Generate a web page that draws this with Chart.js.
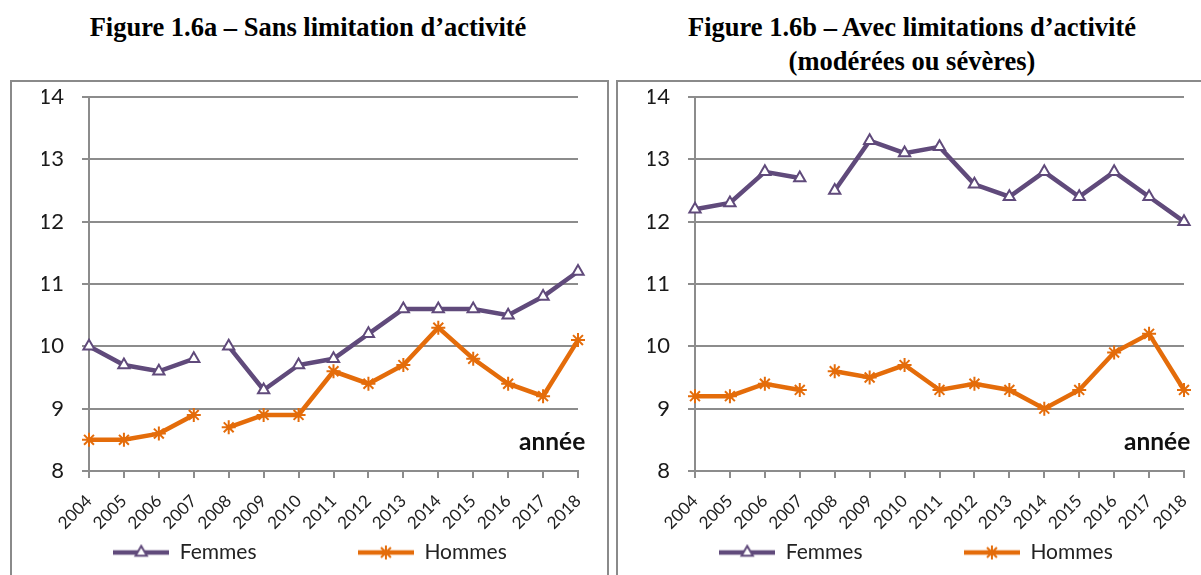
<!DOCTYPE html>
<html lang="fr">
<head>
<meta charset="UTF-8">
<title>Figures 1.6a et 1.6b</title>
<script src="https://cdn.jsdelivr.net/npm/chart.js"></script>
<style>
    body {
        margin: 0;
        width: 1201px;
        height: 575px;
        overflow: hidden;
        background: #fff;
        position: relative;
        font-family: Lato, sans-serif;
    }
    .titre {
        position: absolute;
        top: 10px;
        font-family: "Liberation Serif", serif;
        font-weight: bold;
        font-size: 26.5px;
        line-height: 34px;
        text-align: center;
        color: #000;
    }
    .cadre {
        position: absolute;
        top: 80px;
        height: 520px;
        border: 2px solid #8a8a8a;
    }
    .cadre canvas {
        position: absolute;
        left: 0;
        top: 0;
    }
    .annee {
        position: absolute;
        top: 344px;
        font-weight: bold;
        font-size: 24.5px;
        line-height: 1.2;
        color: #111;
    }
</style>
</head>
<body>
    <div class="titre" style="left:0; width:616px;">Figure 1.6a – Sans limitation d’activité</div>
    <div class="titre" style="left:612px; width:600px;">Figure 1.6b – Avec limitations d’activité<br>(modérées ou sévères)</div>

    <div class="cadre" style="left:10px; width:595px;">
        <canvas id="chartA" width="595" height="493"></canvas>
        <span class="annee" style="left:507px;">année</span>
    </div>
    <div class="cadre" style="left:616px; width:600px;">
        <canvas id="chartB" width="595" height="493"></canvas>
        <span class="annee" style="left:506px;">année</span>
    </div>

<script>
    // Données
    const annees = ['2004', '2005', '2006', '2007', '2008', '2009', '2010', '2011',
                    '2012', '2013', '2014', '2015', '2016', '2017', '2018'];

    // Figure 1.6a - sans limitation
    const femmesSans = [10.0, 9.7, 9.6, 9.8, 10.0, 9.3, 9.7, 9.8, 10.2, 10.6, 10.6, 10.6, 10.5, 10.8, 11.2];
    const hommesSans = [8.5, 8.5, 8.6, 8.9, 8.7, 8.9, 8.9, 9.6, 9.4, 9.7, 10.3, 9.8, 9.4, 9.2, 10.1];

    // Figure 1.6b - avec limitations
    const femmesAvec = [12.2, 12.3, 12.8, 12.7, 12.5, 13.3, 13.1, 13.2, 12.6, 12.4, 12.8, 12.4, 12.8, 12.4, 12.0];
    const hommesAvec = [9.2, 9.2, 9.4, 9.3, 9.6, 9.5, 9.7, 9.3, 9.4, 9.3, 9.0, 9.3, 9.9, 10.2, 9.3];

    // rupture de série entre 2007 et 2008
    const indexRupture = 3;

    const violet = '#604a7b';
    const orange = '#e46c0a';
    const gris = '#8c8c8c';

    // petite image ligne + marqueur pour la légende
    function imageLegende(couleur, style, rayon) {
        const c = document.createElement('canvas');
        c.width = 56;
        c.height = 18;
        const g = c.getContext('2d');
        g.strokeStyle = couleur;
        g.lineWidth = 4.5;
        g.beginPath();
        g.moveTo(0, 9);
        g.lineTo(56, 9);
        g.stroke();
        g.fillStyle = '#fff';
        g.lineWidth = 2;
        Chart.helpers.drawPoint(g, { pointStyle: style, radius: rayon, borderWidth: 2, rotation: 0 }, 28, 9);
        return c;
    }

    function serie(label, data, couleur, style, rayon) {
        return {
            label: label,
            data: data,
            borderColor: couleur,
            borderWidth: 4.5,
            pointStyle: style,
            pointRadius: rayon,
            pointBorderWidth: 2,
            pointBackgroundColor: '#fff',
            pointBorderColor: couleur,
            tension: 0,
            segment: {
                borderColor: ctx => ctx.p0DataIndex === indexRupture ? 'rgba(0,0,0,0)' : undefined
            }
        };
    }

    function creerGraphique(id, femmes, hommes) {
        const imgF = imageLegende(violet, 'triangle', 6.5);
        const imgH = imageLegende(orange, 'star', 7);
        return new Chart(document.getElementById(id), {
            type: 'line',
            data: {
                labels: annees,
                datasets: [
                    serie('Femmes', femmes, violet, 'triangle', 6.5),
                    serie('Hommes', hommes, orange, 'star', 7)
                ]
            },
            options: {
                responsive: false,
                animation: false,
                layout: { padding: { left: 30, right: 29, top: 0, bottom: 2 } },
                plugins: {
                    tooltip: { enabled: false },
                    legend: {
                        position: 'bottom',
                        labels: {
                            usePointStyle: true,
                            pointStyleWidth: 56,
                            padding: 10,
                            color: '#222',
                            font: { family: 'Lato', size: 21 },
                            generateLabels: chart => [
                                { text: 'Femmes' + '\u00a0'.repeat(17), pointStyle: imgF, fontColor: '#222', datasetIndex: 0, lineWidth: 0 },
                                { text: 'Hommes', pointStyle: imgH, fontColor: '#222', datasetIndex: 1, lineWidth: 0 }
                            ]
                        }
                    }
                },
                scales: {
                    x: {
                        offset: false,
                        afterFit: s => { s.height = 61; },
                        grid: {
                            drawOnChartArea: false,
                            drawTicks: true,
                            tickLength: 7,
                            color: gris,
                            lineWidth: 2
                        },
                        border: { display: true, color: gris, width: 2 },
                        ticks: {
                            minRotation: 45,
                            maxRotation: 45,
                            autoSkip: false,
                            padding: 13,
                            color: '#222',
                            font: { family: 'Lato', size: 17 }
                        }
                    },
                    y: {
                        min: 8,
                        max: 14,
                        afterFit: s => {
                            s.width = 47;
                            s.paddingTop = 15;
                            s.paddingBottom = 0;
                        },
                        grid: {
                            color: gris,
                            lineWidth: 2,
                            tickLength: 7
                        },
                        border: { display: true, color: gris, width: 2 },
                        ticks: {
                            stepSize: 1,
                            padding: 18,
                            color: '#1a1a1a',
                            font: { family: 'Lato', size: 22 }
                        }
                    }
                }
            }
        });
    }

    creerGraphique('chartA', femmesSans, hommesSans);
    creerGraphique('chartB', femmesAvec, hommesAvec);
</script>
</body>
</html>
